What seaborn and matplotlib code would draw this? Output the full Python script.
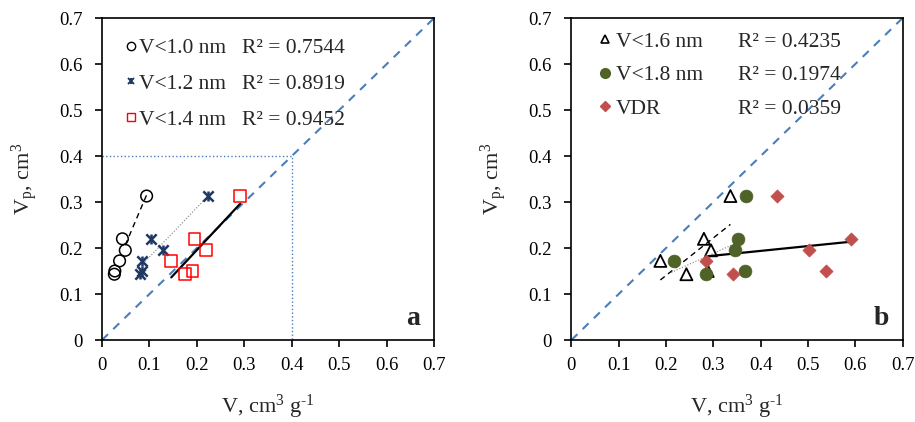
import numpy as np
import pandas as pd
import matplotlib
matplotlib.use('Agg')
import matplotlib.pyplot as plt
import seaborn as sns
from matplotlib.lines import Line2D
from matplotlib.legend_handler import HandlerTuple

# pore volume Vp (same samples in every series)
vp = [0.313, 0.220, 0.195, 0.172, 0.150, 0.143]

# panel a
v10 = [0.094, 0.043, 0.049, 0.037, 0.027, 0.026]
v12 = [0.224, 0.103, 0.128, 0.084, 0.084, 0.080]
v14 = [0.291, 0.195, 0.219, 0.146, 0.191, 0.175]
# panel b
v16 = [0.336, 0.280, 0.295, 0.188, 0.288, 0.243]
v18 = [0.368, 0.352, 0.346, 0.216, 0.367, 0.285]
vdr = [0.435, 0.590, 0.503, 0.285, 0.538, 0.341]

names_a = ['V<1.0 nm', 'V<1.2 nm', 'V<1.4 nm']
r2_a = ['R² = 0.7544', 'R² = 0.8919', 'R² = 0.9452']
names_b = ['V<1.6 nm', 'V<1.8 nm', 'VDR']
r2_b = ['R² = 0.4235', 'R² = 0.1974', 'R² = 0.0359']

# x extent of the excel trendlines
span_a = [(0.049, 0.094), (0.087, 0.222), (0.146, 0.291)]
span_b = [(0.188, 0.336), (0.211, 0.367), (0.285, 0.590)]

ticks = [0, 0.1, 0.2, 0.3, 0.4, 0.5, 0.6, 0.7]
tick_labels = ['0', '0.1', '0.2', '0.3', '0.4', '0.5', '0.6', '0.7']

sns.set_style('ticks')
plt.rcParams['font.family'] = ['Liberation Serif', 'DejaVu Serif']
plt.rcParams['mathtext.fontset'] = 'custom'
plt.rcParams['mathtext.rm'] = 'Liberation Serif'
plt.rcParams['mathtext.it'] = 'Liberation Serif:italic'
plt.rcParams['mathtext.default'] = 'regular'

blue = '#4A7EBB'
navy = '#1F3864'
green = '#4F6228'
red_d = '#C0504D'

fig = plt.figure(figsize=(9.15, 4.22), dpi=100)
ax_a = fig.add_axes([0.1115, 0.1943, 0.363, 0.763])
ax_b = fig.add_axes([0.6245, 0.1943, 0.362, 0.763])


def trend(ax, x, y, span, **kw):
    k, b = np.polyfit(x, y, 1)
    xs = np.array(span)
    ax.plot(xs, k * xs + b, **kw)


def style(ax, letter):
    ax.plot([0, 0.7], [0, 0.7], color=blue, lw=1.5, dashes=(4, 3.5), zorder=1)
    ax.set_xlim(0, 0.7)
    ax.set_ylim(0, 0.7)
    ax.set_xticks(ticks)
    ax.set_xticklabels(tick_labels)
    ax.set_yticks(ticks)
    ax.set_yticklabels(tick_labels)
    ax.tick_params(axis='both', direction='out', length=5, width=1.2, colors='black', labelsize=13.5)
    ax.tick_params(axis='x', pad=7)
    ax.tick_params(axis='y', pad=9)
    for sp in ax.spines.values():
        sp.set_visible(True)
        sp.set_color('black')
        sp.set_linewidth(1.2)
    ax.set_xlabel(r'V, cm$^{3}$ g$^{\text{-}1}$', fontsize=16, labelpad=14)
    ax.set_ylabel(r'V$_{p}$, cm$^{3}$', fontsize=16, labelpad=14)
    ax.text(0.937, 0.068, letter, transform=ax.transAxes, fontsize=20,
            fontweight='bold', ha='center', va='center')


# ---- panel a
ax = ax_a
ax.plot([0, 0.4, 0.4], [0.4, 0.4, 0], color=blue, lw=1, ls=':', zorder=1)
trend(ax, v10, vp, span_a[0], color='black', lw=1, dashes=(4, 3), zorder=2)
trend(ax, v12, vp, span_a[1], color='#808080', lw=0.8, ls=':', zorder=2)
trend(ax, v14, vp, span_a[2], color='black', lw=1.6, zorder=2)
sns.scatterplot(x=v10, y=vp, ax=ax, marker='o', s=70, facecolor='none',
                edgecolor='black', linewidth=1.1, zorder=3)
sns.scatterplot(x=v12, y=vp, ax=ax, marker='x', s=55, color=navy, linewidth=1.8, zorder=3)
sns.scatterplot(x=v12, y=vp, ax=ax, marker='|', s=55, color=navy, linewidth=1.8, zorder=3)
sns.scatterplot(x=v14, y=vp, ax=ax, marker='s', s=70, facecolor='none',
                edgecolor='#FF0000', linewidth=1.1, zorder=3)
style(ax, 'a')

h_a = [Line2D([], [], marker='o', ls='', mfc='none', mec='black', ms=6, mew=1),
       (Line2D([], [], marker='x', ls='', color=navy, ms=5, mew=1.4),
        Line2D([], [], marker='|', ls='', color=navy, ms=5, mew=1.4)),
       Line2D([], [], marker='s', ls='', mfc='none', mec='#FF0000', ms=6, mew=1)]
leg_a = ax.legend(h_a, names_a, loc='upper left', bbox_to_anchor=(0.072, 0.937),
                  frameon=False, fontsize=15.5, handlelength=0.5, handletextpad=0.1,
                  labelspacing=0.72, borderpad=0, borderaxespad=0,
                  handler_map={tuple: HandlerTuple(ndivide=1)})

# ---- panel b
ax = ax_b
trend(ax, v16, vp, span_b[0], color='black', lw=1, dashes=(4, 3), zorder=2)
trend(ax, v18, vp, span_b[1], color='#808080', lw=0.8, ls=':', zorder=2)
trend(ax, vdr, vp, span_b[2], color='black', lw=1.6, zorder=2)
sns.scatterplot(x=v16, y=vp, ax=ax, marker='^', s=75, facecolor='none',
                edgecolor='black', linewidth=1.3, zorder=3)
sns.scatterplot(x=v18, y=vp, ax=ax, marker='o', s=85, color=green,
                edgecolor=green, linewidth=0.5, zorder=3)
sns.scatterplot(x=vdr, y=vp, ax=ax, marker='D', s=45, color=red_d,
                edgecolor=red_d, linewidth=0.5, zorder=3)
style(ax, 'b')

h_b = [Line2D([], [], marker='^', ls='', mfc='none', mec='black', ms=6, mew=1.2),
       Line2D([], [], marker='o', ls='', color=green, ms=7),
       Line2D([], [], marker='D', ls='', color=red_d, ms=5)]
leg_b = ax.legend(h_b, names_b, loc='upper left', bbox_to_anchor=(0.083, 0.957),
                  frameon=False, fontsize=15.5, handlelength=0.6, handletextpad=0.2,
                  labelspacing=0.62, borderpad=0, borderaxespad=0)

# R² column, lined up with legend rows
fig.canvas.draw()
for ax, leg, r2, xr in [(ax_a, leg_a, r2_a, 0.422), (ax_b, leg_b, r2_b, 0.5015)]:
    inv = ax.transAxes.inverted()
    for t, s in zip(leg.get_texts(), r2):
        bb = t.get_window_extent()
        yc = inv.transform((0, (bb.y0 + bb.y1) / 2))[1]
        ax.text(xr, yc, s, transform=ax.transAxes, fontsize=15.5, va='center', ha='left')

fig.savefig('out.png', dpi=100)
